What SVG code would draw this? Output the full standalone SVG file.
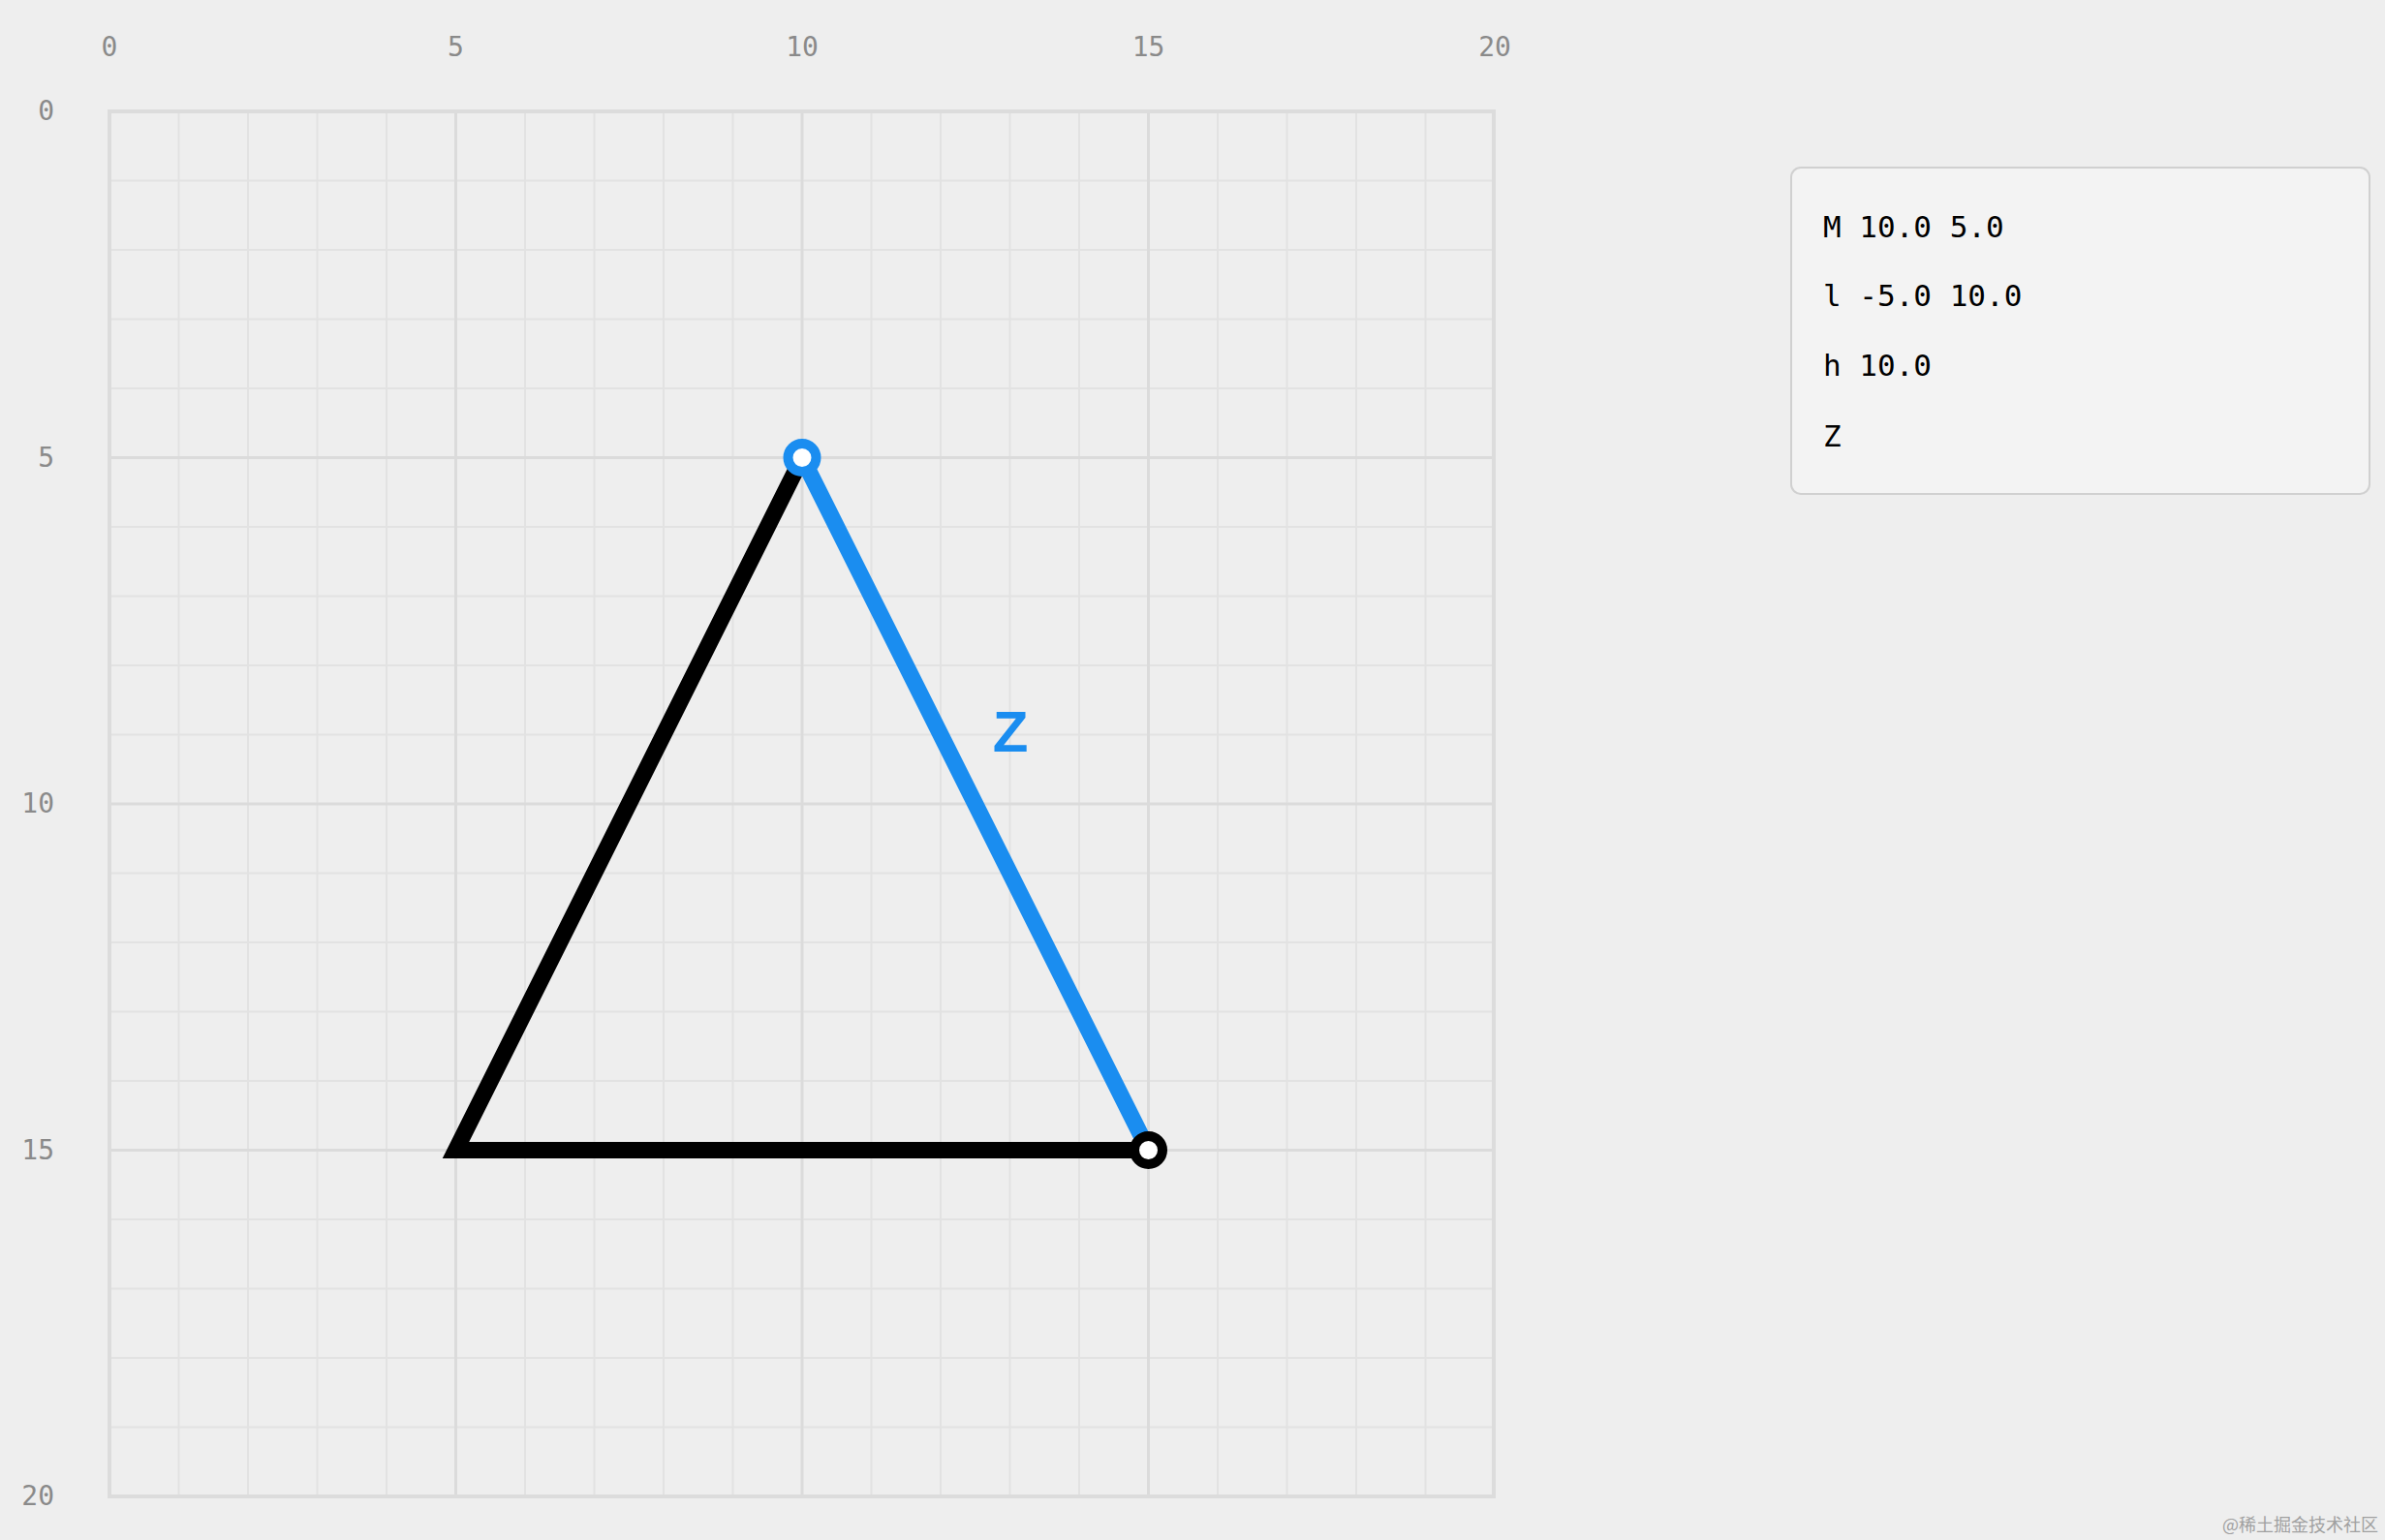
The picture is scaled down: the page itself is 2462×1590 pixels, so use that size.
<svg xmlns="http://www.w3.org/2000/svg" width="2462" height="1590" viewBox="0 0 2462 1590">
<style>
.ax{font-family:"DejaVu Sans Mono","Liberation Mono",monospace;font-size:28px;fill:#8a8a8a}
.code{font-family:"DejaVu Sans Mono","Liberation Mono",monospace;font-size:31px;fill:#000}
.minor{stroke:#e2e2e2;stroke-width:2}
.major{stroke:#dbdbdb;stroke-width:3}
</style>
<rect x="0" y="0" width="2462" height="1590" fill="#eeeeee"/>
<g id="grid">
<g class="minor">
<path d="M184.5 115V1545M256 115V1545M327.5 115V1545M399 115V1545M542 115V1545M613.5 115V1545M685 115V1545M756.5 115V1545M899.5 115V1545M971 115V1545M1042.5 115V1545M1114 115V1545M1257 115V1545M1328.5 115V1545M1400 115V1545M1471.5 115V1545"/>
<path d="M113 186.5H1542M113 258H1542M113 329.5H1542M113 401H1542M113 544H1542M113 615.5H1542M113 687H1542M113 758.5H1542M113 901.5H1542M113 973H1542M113 1044.5H1542M113 1116H1542M113 1259H1542M113 1330.5H1542M113 1402H1542M113 1473.5H1542"/>
</g>
<g class="major">
<path d="M470.5 115V1545M828 115V1545M1185.5 115V1545"/>
<path d="M113 472.5H1542M113 830H1542M113 1187.5H1542"/>
</g>
<rect x="113" y="115" width="1429" height="1430" fill="none" stroke="#dcdcdc" stroke-width="4"/>
</g>
<g id="x-axis" class="ax" text-anchor="middle">
<text x="113" y="58">0</text>
<text x="470.5" y="58">5</text>
<text x="828" y="58">10</text>
<text x="1185.5" y="58">15</text>
<text x="1543" y="58">20</text>
</g>
<g id="y-axis" class="ax" text-anchor="end">
<text x="56" y="124">0</text>
<text x="56" y="482">5</text>
<text x="56" y="839">10</text>
<text x="56" y="1197">15</text>
<text x="56" y="1554">20</text>
</g>
<g id="connectors">
<path id="path-lh" d="M828 472.5L470.5 1187.5H1185.5" fill="none" stroke="#000" stroke-width="17" stroke-linejoin="miter" stroke-miterlimit="10"/>
<path id="path-z" d="M1185.5 1187.5L828 472.5" fill="none" stroke="#1a8df0" stroke-width="17"/>
</g>
<g id="start-point">
<circle cx="828" cy="472.5" r="14.5" fill="#fff" stroke="#1a8df0" stroke-width="10"/>
</g>
<g id="end-point">
<circle cx="1185.5" cy="1187.5" r="14.5" fill="#fff" stroke="#000" stroke-width="10"/>
</g>
<g id="z-label">
<text x="1043" y="776" text-anchor="middle" font-family="Liberation Sans, Arial, sans-serif" font-weight="bold" font-size="60" fill="#1a8df0">Z</text>
</g>
<g id="code-box">
<rect x="1849" y="173" width="597" height="337" rx="10" fill="#f3f3f3" stroke="#d0d0d0" stroke-width="2"/>
<text class="code" x="1882" y="245">M 10.0 5.0</text>
<text class="code" x="1882" y="316">l -5.0 10.0</text>
<text class="code" x="1882" y="388">h 10.0</text>
<text class="code" x="1882" y="461">Z</text>
</g>
<text x="2455" y="1581" text-anchor="end" font-family="Noto Sans CJK SC, sans-serif" font-size="18" fill="#a0a0a0">@稀土掘金技术社区</text>
</svg>
